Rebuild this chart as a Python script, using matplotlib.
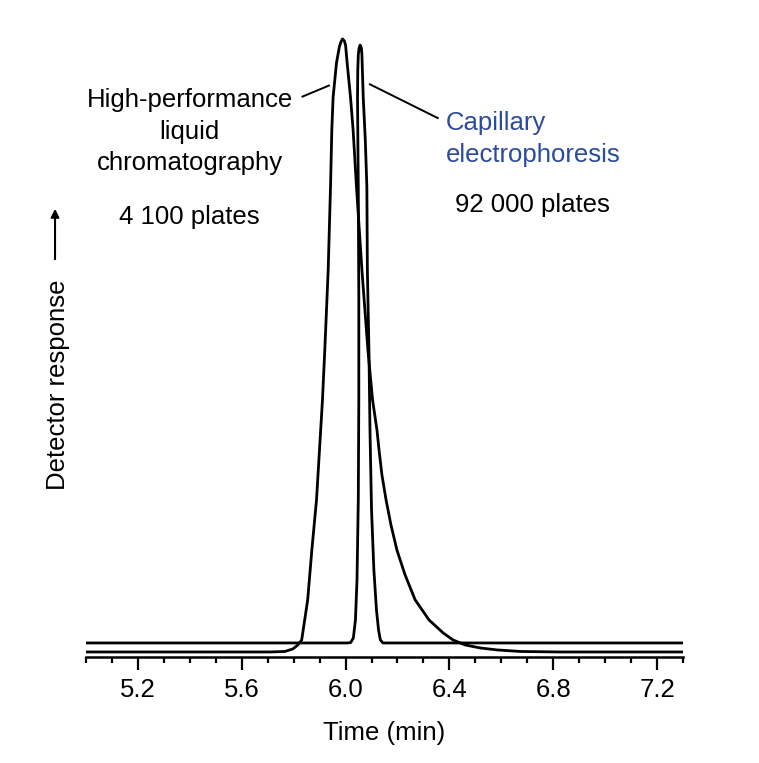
import numpy as np
import matplotlib
matplotlib.use("Agg")
import matplotlib.pyplot as plt
from matplotlib.ticker import FixedLocator, MultipleLocator, FormatStrFormatter

plt.rcParams['font.family'] = ['Liberation Sans', 'DejaVu Sans']

# HPLC trace (time in min, detector response in arbitrary units)
hplc_time = [5.00, 5.710, 5.766, 5.797, 5.816, 5.831, 5.854, 5.870, 5.888, 5.911,
             5.920, 5.933, 5.942, 5.947, 5.952, 5.965, 5.976, 5.982, 5.988, 5.995,
             6.000, 6.006, 6.019, 6.029, 6.042, 6.063, 6.086, 6.104, 6.121, 6.129,
             6.140, 6.156, 6.175, 6.198, 6.229, 6.268, 6.322, 6.376, 6.414, 6.461,
             6.519, 6.584, 6.673, 6.827, 7.30]
hplc_resp = [0.0, 0.0, 0.08, 0.49, 1.14, 1.96, 8.5, 16.6, 24.8, 41.1,
             49.3, 62.3, 75.9, 85.2, 90.5, 96.1, 98.7, 99.5, 100.0, 99.7,
             99.0, 96.1, 90.5, 85.2, 75.9, 62.3, 49.3, 41.1, 36.2, 32.9,
             28.9, 24.8, 20.7, 16.6, 12.6, 8.5, 5.2, 3.1, 1.96, 1.14,
             0.65, 0.33, 0.08, 0.0, 0.0]

# Capillary electrophoresis trace (sits on a slightly raised baseline)
ce_time = [5.00, 6.009, 6.020, 6.030, 6.038, 6.044, 6.049, 6.051, 6.051, 6.049,
           6.046, 6.047, 6.049, 6.052, 6.056, 6.061, 6.063, 6.068, 6.076, 6.082,
           6.084, 6.090, 6.094, 6.100, 6.109, 6.119, 6.127, 6.134, 6.144, 7.30]
ce_resp = [1.47, 1.47, 1.55, 2.28, 5.22, 11.7, 24.8, 41.1, 57.4, 75.4,
           90.5, 94.9, 97.4, 98.5, 99.0, 98.5, 97.4, 90.5, 83.5, 75.9,
           62.3, 49.3, 36.2, 23.2, 13.4, 6.85, 3.59, 1.96, 1.47, 1.47]

major_ticks = [5.2, 5.6, 6.0, 6.4, 6.8, 7.2]

fig = plt.figure(figsize=(7.59, 7.63), dpi=100)
ax = fig.add_axes([0.1133, 0.1383, 0.7866, 0.8508])

ax.plot(hplc_time, hplc_resp, color='black', lw=2.0, solid_joinstyle='round')
ax.plot(ce_time, ce_resp, color='black', lw=2.0, solid_joinstyle='round')

ax.set_xlim(5.0, 7.3)
ax.set_ylim(-0.9, 105)

for side in ['left', 'right', 'top']:
    ax.spines[side].set_visible(False)
ax.spines['bottom'].set_linewidth(1.8)
ax.set_yticks([])

ax.xaxis.set_major_locator(FixedLocator(major_ticks))
ax.xaxis.set_minor_locator(MultipleLocator(0.1))
ax.xaxis.set_major_formatter(FormatStrFormatter('%.1f'))
ax.tick_params(axis='x', which='major', length=9.5, width=1.6, labelsize=18.5, pad=5)
ax.tick_params(axis='x', which='minor', length=4, width=1.6)
ax.set_xlabel('Time (min)', fontsize=18.5, labelpad=14)

# annotations
ax.text(5.399, 84.9, 'High-performance\nliquid\nchromatography', ha='center', va='center',
        fontsize=18.5, linespacing=1.4)
ax.text(5.399, 71.0, '4 100 plates', ha='center', va='center', fontsize=18.5)
ax.plot([5.834, 5.936], [90.6, 92.4], color='black', lw=1.4)

ax.text(6.385, 83.7, 'Capillary\nelectrophoresis', ha='left', va='center',
        fontsize=18.5, linespacing=1.4, color='#2b4c9b')
ax.text(6.719, 72.9, '92 000 plates', ha='center', va='center', fontsize=18.5)
ax.plot([6.094, 6.355], [92.6, 87.1], color='black', lw=1.4)

# y label with arrow
fig.text(0.0764, 0.4954, 'Detector response', rotation=90, ha='center', va='center',
         fontsize=18.5)
fig.patches.append(matplotlib.patches.FancyArrowPatch(
    (0.0725, 0.6566), (0.0725, 0.7300), transform=fig.transFigure,
    arrowstyle='-|>', mutation_scale=12, lw=1.5, color='black'))

fig.savefig('out.png', dpi=100, facecolor='white')
